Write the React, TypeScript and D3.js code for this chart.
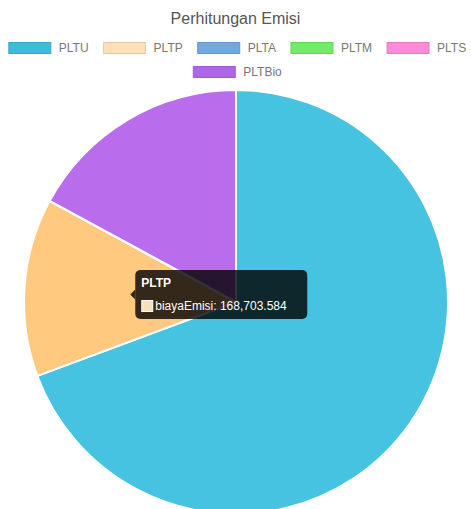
import React, { useEffect, useRef } from "react";
import * as d3 from "d3";

const labels = ["PLTU", "PLTP", "PLTA", "PLTM", "PLTS", "PLTBio"];
const biayaEmisi = [861100, 168703.584, 0, 0, 0, 212200];
const colors = ["#3dbbd8", "#ffdfb8", "#72a9dd", "#72ec68", "#ff8ad9", "#ac66e6"];
const hoverColors = ["#45c3e0", "#ffc97f", "#72a9dd", "#72ec68", "#ff8ad9", "#b96ceb"];
const chartTitle = "Perhitungan Emisi";
const seriesName = "biayaEmisi";
const hovered = 1;

const W = 471;
const H = 509;

function App() {
  const ref = useRef<SVGSVGElement>(null);

  useEffect(() => {
    const svg = d3.select(ref.current);
    svg.selectAll("*").remove();
    const font = "'Liberation Sans', Arial, sans-serif";

    svg.append("text")
      .text(chartTitle)
      .attr("x", W / 2)
      .attr("y", 18)
      .attr("text-anchor", "middle")
      .attr("dominant-baseline", "central")
      .attr("font-family", font)
      .attr("font-size", 16)
      .attr("fill", "#555");

    // legend, rows centred like chart.js
    const ctx = document.createElement("canvas").getContext("2d")!;
    ctx.font = `12px ${font}`;
    const boxW = 42, boxH = 11, gap = 8, pad = 15;
    const items = labels.map((l, i) => ({ l, i, w: boxW + gap + ctx.measureText(l).width }));
    const rows: typeof items[] = [[]];
    let rowW = 0;
    items.forEach(it => {
      const add = (rows[rows.length - 1].length ? pad : 0) + it.w;
      if (rowW + add > W - 10 && rows[rows.length - 1].length) {
        rows.push([it]);
        rowW = it.w;
      } else {
        rows[rows.length - 1].push(it);
        rowW += add;
      }
    });
    rows.forEach((row, r) => {
      const total = d3.sum(row, d => d.w) + pad * (row.length - 1);
      let x = (W - total) / 2 + 2;
      const cy = 48 + r * 24;
      row.forEach(it => {
        const g = svg.append("g");
        g.append("rect")
          .attr("x", x).attr("y", cy - boxH / 2)
          .attr("width", boxW).attr("height", boxH)
          .attr("fill", colors[it.i])
          .attr("stroke", d3.color(colors[it.i])!.darker(0.3).formatHex())
          .attr("stroke-width", 1);
        g.append("text")
          .text(it.l)
          .attr("x", x + boxW + gap)
          .attr("y", cy)
          .attr("dominant-baseline", "central")
          .attr("font-family", font)
          .attr("font-size", 12)
          .attr("fill", "#777");
        x += it.w + pad;
      });
    });

    // pie
    const cx = 236, cy = 302, R = 212;
    const pie = d3.pie<number>().sort(null).value(d => d);
    const arcs = pie(biayaEmisi);
    const arc = d3.arc<d3.PieArcDatum<number>>().innerRadius(0).outerRadius(R);
    const g = svg.append("g").attr("transform", `translate(${cx},${cy})`);
    g.selectAll("path")
      .data(arcs)
      .enter().append("path")
      .attr("d", arc)
      .attr("fill", (d, i) => hoverColors[i])
      .attr("stroke", "#fff")
      .attr("stroke-width", 2);

    // tooltip for the hovered slice
    const [ax, ay] = arc.centroid(arcs[hovered]);
    const px = cx + ax, py = cy + ay;
    const caret = 5;
    const tw = 172, th = 49;
    const bx = px + caret, by = py - th / 2;
    const tip = svg.append("g");
    tip.append("rect")
      .attr("x", bx).attr("y", by)
      .attr("width", tw).attr("height", th)
      .attr("rx", 5)
      .attr("fill", "rgba(0,0,0,0.8)");
    tip.append("path")
      .attr("d", `M${bx},${py - caret}L${px},${py}L${bx},${py + caret}Z`)
      .attr("fill", "rgba(0,0,0,0.8)");
    tip.append("text")
      .text(labels[hovered])
      .attr("x", bx + 6).attr("y", by + 13)
      .attr("dominant-baseline", "central")
      .attr("font-family", font)
      .attr("font-size", 12)
      .attr("font-weight", "bold")
      .attr("fill", "#fff");
    tip.append("rect")
      .attr("x", bx + 6.5).attr("y", by + 30.5)
      .attr("width", 11).attr("height", 11)
      .attr("fill", colors[hovered])
      .attr("stroke", "#fff")
      .attr("stroke-width", 1);
    tip.append("text")
      .text(`${seriesName}: ${d3.format(",")(biayaEmisi[hovered])}`)
      .attr("x", bx + 20).attr("y", by + 36)
      .attr("dominant-baseline", "central")
      .attr("font-family", font)
      .attr("font-size", 12)
      .attr("fill", "#fff");
  }, []);

  return (
    <svg ref={ref} width={W} height={H}
      style={{ position: "absolute", left: 0, top: 0, display: "block", background: "#fff" }} />
  );
}

export default App;
